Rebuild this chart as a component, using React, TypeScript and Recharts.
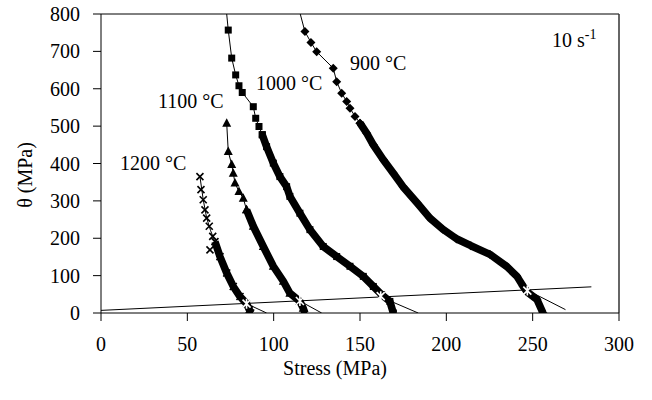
import React from 'react';
import { ScatterChart, Scatter, XAxis, YAxis, ReferenceLine } from 'recharts';

type P = { x: number; y: number };

const xTicks = [0, 50, 100, 150, 200, 250, 300];
const yTicks = [0, 100, 200, 300, 400, 500, 600, 700, 800];

// 1200 °C (× markers)
const c1200Top: P[] = [
  { x: 57.3, y: 365 }, { x: 57.9, y: 330 }, { x: 59.2, y: 303 }, { x: 60.2, y: 276 },
  { x: 61.2, y: 254 }, { x: 62.7, y: 232 }, { x: 64.7, y: 205 }, { x: 63.1, y: 169 },
];
const c1200Fit: P[] = [
  { x: 57.3, y: 365 }, { x: 59.2, y: 303 }, { x: 61.2, y: 254 }, { x: 63.5, y: 220 },
  { x: 66, y: 191 },
];
const c1200Band: P[] = [
  { x: 66, y: 191 }, { x: 68.9, y: 151 }, { x: 72.8, y: 107 }, { x: 76.6, y: 71 },
  { x: 80.5, y: 44 }, { x: 84.3, y: 25 }, { x: 85.9, y: 9 }, { x: 86.7, y: 0 },
];

// 1100 °C (triangles)
const c1100Top: P[] = [
  { x: 72.8, y: 508 }, { x: 73.7, y: 432 }, { x: 75.7, y: 397 }, { x: 76.6, y: 374 },
  { x: 77.6, y: 348 }, { x: 79.9, y: 325 }, { x: 82.4, y: 307 }, { x: 84.3, y: 276 },
];
const c1100Band: P[] = [
  { x: 84.3, y: 276 }, { x: 88.2, y: 232 }, { x: 94, y: 178 }, { x: 99.8, y: 125 },
  { x: 105.6, y: 85 }, { x: 109.4, y: 53 }, { x: 115.2, y: 31 }, { x: 117.1, y: 13 },
  { x: 118.1, y: 0 },
];

// 1000 °C (squares)
const c1000Top: P[] = [
  { x: 73.7, y: 757 }, { x: 75.7, y: 682 }, { x: 78, y: 637 }, { x: 79.9, y: 608 },
  { x: 81.8, y: 590 }, { x: 88.2, y: 552 }, { x: 89.6, y: 521 }, { x: 91.5, y: 499 },
  { x: 93.4, y: 477 },
];
const c1000Start: P[] = [{ x: 72.8, y: 800 }];
const c1000Band: P[] = [
  { x: 93.4, y: 477 }, { x: 95.9, y: 445 }, { x: 99.8, y: 401 }, { x: 103.6, y: 365 },
  { x: 107.5, y: 338 }, { x: 109.4, y: 312 }, { x: 115.2, y: 267 }, { x: 121, y: 223 },
  { x: 128.7, y: 178 }, { x: 136.5, y: 151 }, { x: 144.2, y: 125 }, { x: 151.9, y: 98 },
  { x: 157.7, y: 71 }, { x: 162.5, y: 49 }, { x: 167.3, y: 31 }, { x: 169.3, y: 0 },
];

// 900 °C (diamonds)
const c900Start: P[] = [{ x: 115.4, y: 800 }];
const c900Top: P[] = [
  { x: 118.1, y: 753 }, { x: 121.6, y: 724 }, { x: 124.9, y: 699 }, { x: 134.5, y: 655 },
  { x: 136.5, y: 619 }, { x: 139.4, y: 588 }, { x: 142.3, y: 566 }, { x: 144.2, y: 548 },
  { x: 147.1, y: 526 }, { x: 150, y: 508 },
];
const c900Band: P[] = [
  { x: 150, y: 508 }, { x: 153.9, y: 481 }, { x: 157.7, y: 450 }, { x: 163.5, y: 410 },
  { x: 169.3, y: 374 }, { x: 174.9, y: 338 }, { x: 183, y: 295 }, { x: 190.5, y: 254 },
  { x: 198, y: 224 }, { x: 206.1, y: 198 }, { x: 214.2, y: 180 }, { x: 225.2, y: 157 },
  { x: 235.1, y: 124 }, { x: 240.9, y: 98 }, { x: 244.4, y: 72 }, { x: 246.7, y: 57 },
  { x: 252.5, y: 36 }, { x: 256, y: 0 },
];

// straight construction lines
const baseLine: P[] = [{ x: 0, y: 7 }, { x: 284, y: 70 }];
const tangent1200: P[] = [{ x: 84.3, y: 25 }, { x: 95.9, y: 0 }];
const tangent1100: P[] = [{ x: 115.2, y: 32 }, { x: 127.8, y: 0 }];
const tangent1000: P[] = [{ x: 162, y: 43 }, { x: 183.7, y: 0 }];
const tangent900: P[] = [{ x: 246.9, y: 61 }, { x: 269, y: 9 }];
const intersections: P[] = [
  { x: 84.3, y: 25 }, { x: 115.2, y: 32 }, { x: 162, y: 45 }, { x: 246.9, y: 60 },
];

const None = () => <g />;
const Cross = (p: any) => {
  const r = 3.5;
  return (
    <path
      d={`M${p.cx - r},${p.cy - r}L${p.cx + r},${p.cy + r}M${p.cx - r},${p.cy + r}L${p.cx + r},${p.cy - r}`}
      stroke="#000" strokeWidth={1.6} fill="none"
    />
  );
};
const Tri = (p: any) => (
  <polygon points={`${p.cx},${p.cy - 5} ${p.cx + 4.5},${p.cy + 3.5} ${p.cx - 4.5},${p.cy + 3.5}`} fill="#000" />
);
const Sq = (p: any) => <rect x={p.cx - 3.5} y={p.cy - 3.5} width={7} height={7} fill="#000" />;
const Dia = (p: any) => (
  <polygon points={`${p.cx},${p.cy - 4.5} ${p.cx + 4.5},${p.cy} ${p.cx},${p.cy + 4.5} ${p.cx - 4.5},${p.cy}`} fill="#000" />
);
const Star = (p: any) => {
  const r = 4;
  return (
    <path
      d={`M${p.cx - r},${p.cy - r}L${p.cx + r},${p.cy + r}M${p.cx - r},${p.cy + r}L${p.cx + r},${p.cy - r}M${p.cx},${p.cy - r - 1}L${p.cx},${p.cy + r + 1}`}
      stroke="#fff" strokeWidth={1.6} fill="none"
    />
  );
};

const thin = { stroke: '#000', strokeWidth: 1 };
const band = { stroke: '#000', strokeWidth: 7.5, strokeLinejoin: 'round', strokeLinecap: 'butt' } as any;
const font = 'Liberation Serif, DejaVu Serif, serif';
const tickStyle = { fill: '#000', fontSize: 20, fontFamily: font };

export default function App() {
  return (
    <div style={{ position: 'absolute', left: 0, top: 0, width: 652, height: 400, background: '#fff', fontFamily: font }}>
      <ScatterChart width={652} height={400} margin={{ top: 14, right: 33, left: 0, bottom: 27 }} style={{ fontFamily: font }}>
        <XAxis
          type="number" dataKey="x" domain={[0, 300]} ticks={xTicks} interval={0}
          allowDataOverflow height={60} tickSize={8} tickMargin={16}
          axisLine={{ stroke: '#000' }} tickLine={{ stroke: '#000' }} tick={tickStyle}
        />
        <YAxis
          type="number" dataKey="y" domain={[0, 800]} ticks={yTicks} interval={0}
          allowDataOverflow width={101} tickSize={8} tickMargin={13}
          axisLine={{ stroke: '#000' }} tickLine={{ stroke: '#000' }} tick={tickStyle}
        />
        <ReferenceLine y={800} stroke="#000" />
        <ReferenceLine x={300} stroke="#333" strokeWidth={1.5} />

        <Scatter data={baseLine} line={thin} shape={None} isAnimationActive={false} />
        <Scatter data={tangent1200} line={thin} shape={None} isAnimationActive={false} />
        <Scatter data={tangent1100} line={thin} shape={None} isAnimationActive={false} />
        <Scatter data={tangent1000} line={thin} shape={None} isAnimationActive={false} />
        <Scatter data={tangent900} line={thin} shape={None} isAnimationActive={false} />

        <Scatter data={c1200Fit} line={thin} shape={None} isAnimationActive={false} />
        <Scatter data={c1200Band} line={band} shape={Cross} isAnimationActive={false} />
        <Scatter data={c1200Top} shape={Cross} isAnimationActive={false} />

        <Scatter data={c1100Top} line={thin} shape={Tri} isAnimationActive={false} />
        <Scatter data={c1100Band} line={band} shape={Tri} isAnimationActive={false} />

        <Scatter data={[...c1000Start, ...c1000Top]} line={thin} shape={None} isAnimationActive={false} />
        <Scatter data={c1000Top} shape={Sq} isAnimationActive={false} />
        <Scatter data={c1000Band} line={band} shape={Sq} isAnimationActive={false} />

        <Scatter data={[...c900Start, ...c900Top]} line={thin} shape={None} isAnimationActive={false} />
        <Scatter data={c900Top} shape={Dia} isAnimationActive={false} />
        <Scatter data={c900Band} line={band} shape={Dia} isAnimationActive={false} />

        <Scatter data={intersections} shape={Star} isAnimationActive={false} />
      </ScatterChart>
      <svg width={652} height={400} style={{ position: 'absolute', left: 0, top: 0, pointerEvents: 'none' }}>
        <g fontFamily={font} fontSize={20} fill="#000">
          <text x={120} y={170}>1200 °C</text>
          <text x={158} y={108}>1100 °C</text>
          <text x={256} y={90}>1000 °C</text>
          <text x={350} y={70}>900 °C</text>
          <text x={552} y={47}>
            10 s<tspan fontSize={14} dy={-8}>-1</tspan>
          </text>
          <text x={335} y={375} textAnchor="middle">Stress (MPa)</text>
          <text x={32} y={175} textAnchor="middle" transform="rotate(-90 32 175)">θ (MPa)</text>
        </g>
      </svg>
    </div>
  );
}
